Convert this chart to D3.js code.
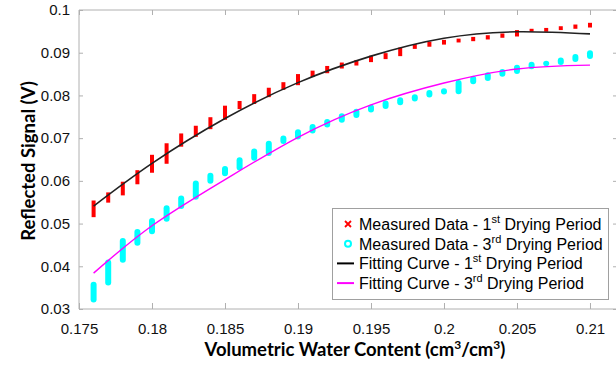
<!DOCTYPE html>
<html>
<head>
<meta charset="utf-8">
<script src="https://cdn.jsdelivr.net/npm/d3@7"></script>
<style>
  html, body { margin: 0; padding: 0; background: #fff; }
  svg { display: block; }
</style>
</head>
<body>
<svg id="chart" width="616" height="368"></svg>
<script>
// ---------- data ----------
const waterContent = [0.176,0.177,0.178,0.179,0.180,0.181,0.182,0.183,0.184,0.185,
  0.186,0.187,0.188,0.189,0.190,0.191,0.192,0.193,0.194,0.195,
  0.196,0.197,0.198,0.199,0.200,0.201,0.202,0.203,0.204,0.205,
  0.206,0.207,0.208,0.209,0.210];

// 1st drying period: measured spread (low / high) at each water content
const dry1Low  = [0.0515,0.0549,0.0566,0.0592,0.0619,0.0640,0.0680,0.0703,0.0721,0.0743,
  0.0768,0.0780,0.0796,0.0813,0.0824,0.0843,0.0852,0.0863,0.0870,0.0878,
  0.0885,0.0892,0.0909,0.0914,0.0919,0.0924,0.0927,0.0931,0.0935,0.0938,
  0.0949,0.0949,0.0953,0.0956,0.0959];
const dry1High = [0.0554,0.0573,0.0598,0.0625,0.0661,0.0688,0.0711,0.0729,0.0749,0.0776,
  0.0787,0.0803,0.0818,0.0831,0.0850,0.0858,0.0869,0.0877,0.0883,0.0893,
  0.0899,0.0912,0.0920,0.0926,0.0930,0.0933,0.0937,0.0941,0.0945,0.0953,
  0.0956,0.0958,0.0962,0.0966,0.0970];

// 3rd drying period
const dry3Low  = [0.0315,0.0355,0.0408,0.0448,0.0475,0.0504,0.0534,0.0556,0.0593,0.0611,
  0.0624,0.0647,0.0658,0.0686,0.0697,0.0711,0.0725,0.0736,0.0747,0.0760,
  0.0768,0.0777,0.0786,0.0795,0.0802,0.0803,0.0826,0.0834,0.0844,0.0850,
  0.0861,0.0869,0.0871,0.0878,0.0885];
const dry3High = [0.0364,0.0416,0.0466,0.0487,0.0513,0.0543,0.0566,0.0601,0.0619,0.0635,
  0.0655,0.0676,0.0694,0.0706,0.0721,0.0733,0.0745,0.0758,0.0769,0.0779,
  0.0788,0.0796,0.0803,0.0813,0.0817,0.0836,0.0846,0.0854,0.0862,0.0872,
  0.0879,0.0881,0.0889,0.0897,0.0906];

// fitting curves
const fitX    = [0.176, 0.180, 0.185, 0.190, 0.195, 0.200, 0.205, 0.210];
const fit1Y   = [0.0541,0.0641,0.0746,0.0830,0.0892,0.0934,0.0949,0.0944];
const fit3Y   = [0.0384,0.0495,0.0603,0.0702,0.0778,0.0829,0.0862,0.0871];

const xTicks = [0.175,0.18,0.185,0.19,0.195,0.2,0.205,0.21];
const yTicks = [0.03,0.04,0.05,0.06,0.07,0.08,0.09,0.1];
const xDomain = [0.175, 0.21185];
const yDomain = [0.03, 0.1];

const legendItems = [
  {type:"cross",  color:"#ff0000", pre:"Measured Data - 1", sup:"st", post:" Drying Period"},
  {type:"circle", color:"#00ffff", pre:"Measured Data - 3", sup:"rd", post:" Drying Period"},
  {type:"line",   color:"#000000", pre:"Fitting Curve - 1", sup:"st", post:" Drying Period"},
  {type:"line",   color:"#ff00ff", pre:"Fitting Curve - 3", sup:"rd", post:" Drying Period"}
];

// ---------- layout ----------
const svg = d3.select("#chart");
const L = 79, R = 617, T = 10, B = 309;
const x = d3.scaleLinear().domain(xDomain).range([L, R]);
const y = d3.scaleLinear().domain(yDomain).range([B, T]);
const axisColor = "#b0b0b0";
const tickFont = "'Liberation Sans', Arial, sans-serif";

// frame
svg.append("line").attr("x1", L).attr("x2", R).attr("y1", T).attr("y2", T).attr("stroke", axisColor);
svg.append("line").attr("x1", L).attr("x2", R).attr("y1", B).attr("y2", B).attr("stroke", axisColor);
svg.append("line").attr("x1", L).attr("x2", L).attr("y1", T).attr("y2", B).attr("stroke", axisColor);

// bottom axis
const gx = svg.append("g").attr("transform", `translate(0,${B})`)
  .call(d3.axisBottom(x).tickValues(xTicks).tickSize(-6).tickPadding(14).tickFormat(d => d3.format("")(+d.toFixed(3))));
gx.select(".domain").remove();
gx.selectAll(".tick line").attr("stroke", axisColor);
gx.selectAll(".tick text").attr("font-family", tickFont).attr("font-size", 15).attr("fill", "#111");
// top ticks
const gxt = svg.append("g").attr("transform", `translate(0,${T})`)
  .call(d3.axisTop(x).tickValues(xTicks).tickSize(-5).tickFormat(""));
gxt.select(".domain").remove();
gxt.selectAll(".tick line").attr("stroke", axisColor);

// left axis
const gy = svg.append("g").attr("transform", `translate(${L},0)`)
  .call(d3.axisLeft(y).tickValues(yTicks).tickSize(-4).tickPadding(9).tickFormat(d => d3.format("")(+d.toFixed(2))));
gy.select(".domain").remove();
gy.selectAll(".tick line").attr("stroke", axisColor);
gy.selectAll(".tick text").attr("font-family", tickFont).attr("font-size", 15).attr("fill", "#111");
// right ticks
const gyr = svg.append("g").attr("transform", `translate(${R},0)`)
  .call(d3.axisRight(y).tickValues(yTicks).tickSize(-4).tickFormat(""));
gyr.select(".domain").remove();
gyr.selectAll(".tick line").attr("stroke", axisColor);

// axis titles
const titleFont = "Lato, 'Open Sans', sans-serif";
const xt = svg.append("text").attr("x", 355).attr("y", 356).attr("text-anchor", "middle")
  .attr("font-family", titleFont).attr("font-weight", 700).attr("font-size", 18.5).attr("fill", "#000");
xt.append("tspan").text("Volumetric Water Content (cm");
xt.append("tspan").attr("dy", -7).attr("font-size", 12).text("3");
xt.append("tspan").attr("dy", 7).text("/cm");
xt.append("tspan").attr("dy", -7).attr("font-size", 12).text("3");
xt.append("tspan").attr("dy", 7).text(")");

svg.append("text").attr("transform", "translate(35,161) rotate(-90)").attr("text-anchor", "middle")
  .attr("font-family", titleFont).attr("font-weight", 700).attr("font-size", 18.5).attr("fill", "#000")
  .text("Reflected Signal (V)");

// ---------- data marks ----------
const plot = svg.append("g");
const idx = d3.range(waterContent.length);

plot.selectAll("rect.d1").data(idx).join("rect").attr("class", "d1")
  .attr("x", i => x(waterContent[i]) - 2)
  .attr("width", 4)
  .attr("y", i => y(dry1High[i]))
  .attr("height", i => Math.max(3, y(dry1Low[i]) - y(dry1High[i])))
  .attr("fill", "#ff0000");

plot.selectAll("rect.d3").data(idx).join("rect").attr("class", "d3")
  .attr("x", i => x(waterContent[i]) - 3)
  .attr("width", 6)
  .attr("rx", 3).attr("ry", 3)
  .attr("y", i => y(dry3High[i]))
  .attr("height", i => Math.max(5, y(dry3Low[i]) - y(dry3High[i])))
  .attr("fill", "#00ffff");

const line = d3.line().curve(d3.curveNatural);
plot.append("path")
  .attr("d", line(fitX.map((v, i) => [x(v), y(fit1Y[i])])))
  .attr("fill", "none").attr("stroke", "#222").attr("stroke-width", 1.6);
plot.append("path")
  .attr("d", line(fitX.map((v, i) => [x(v), y(fit3Y[i])])))
  .attr("fill", "none").attr("stroke", "#ff00ff").attr("stroke-width", 1.4);

// ---------- legend ----------
const lg = svg.append("g");
lg.append("rect").attr("x", 332.5).attr("y", 208.5).attr("width", 276).attr("height", 91)
  .attr("fill", "#fff").attr("stroke", "#a0a0a0");
legendItems.forEach((d, i) => {
  const cy = 224 + i * 19.7;
  if (d.type === "cross") {
    lg.append("path").attr("d", `M${345},${cy-3}L${351},${cy+3}M${351},${cy-3}L${345},${cy+3}`)
      .attr("stroke", d.color).attr("stroke-width", 1.8);
  } else if (d.type === "circle") {
    lg.append("circle").attr("cx", 348).attr("cy", cy).attr("r", 3)
      .attr("fill", "none").attr("stroke", d.color).attr("stroke-width", 2);
  } else {
    lg.append("line").attr("x1", 337).attr("x2", 354).attr("y1", cy).attr("y2", cy)
      .attr("stroke", d.color).attr("stroke-width", 2);
  }
  const t = lg.append("text").attr("x", 359).attr("y", cy + 6)
    .attr("font-family", tickFont).attr("font-size", 16).attr("fill", "#000");
  t.append("tspan").text(d.pre);
  t.append("tspan").attr("dy", -7).attr("font-size", 11).text(d.sup);
  t.append("tspan").attr("dy", 7).text(d.post);
});
</script>
</body>
</html>
